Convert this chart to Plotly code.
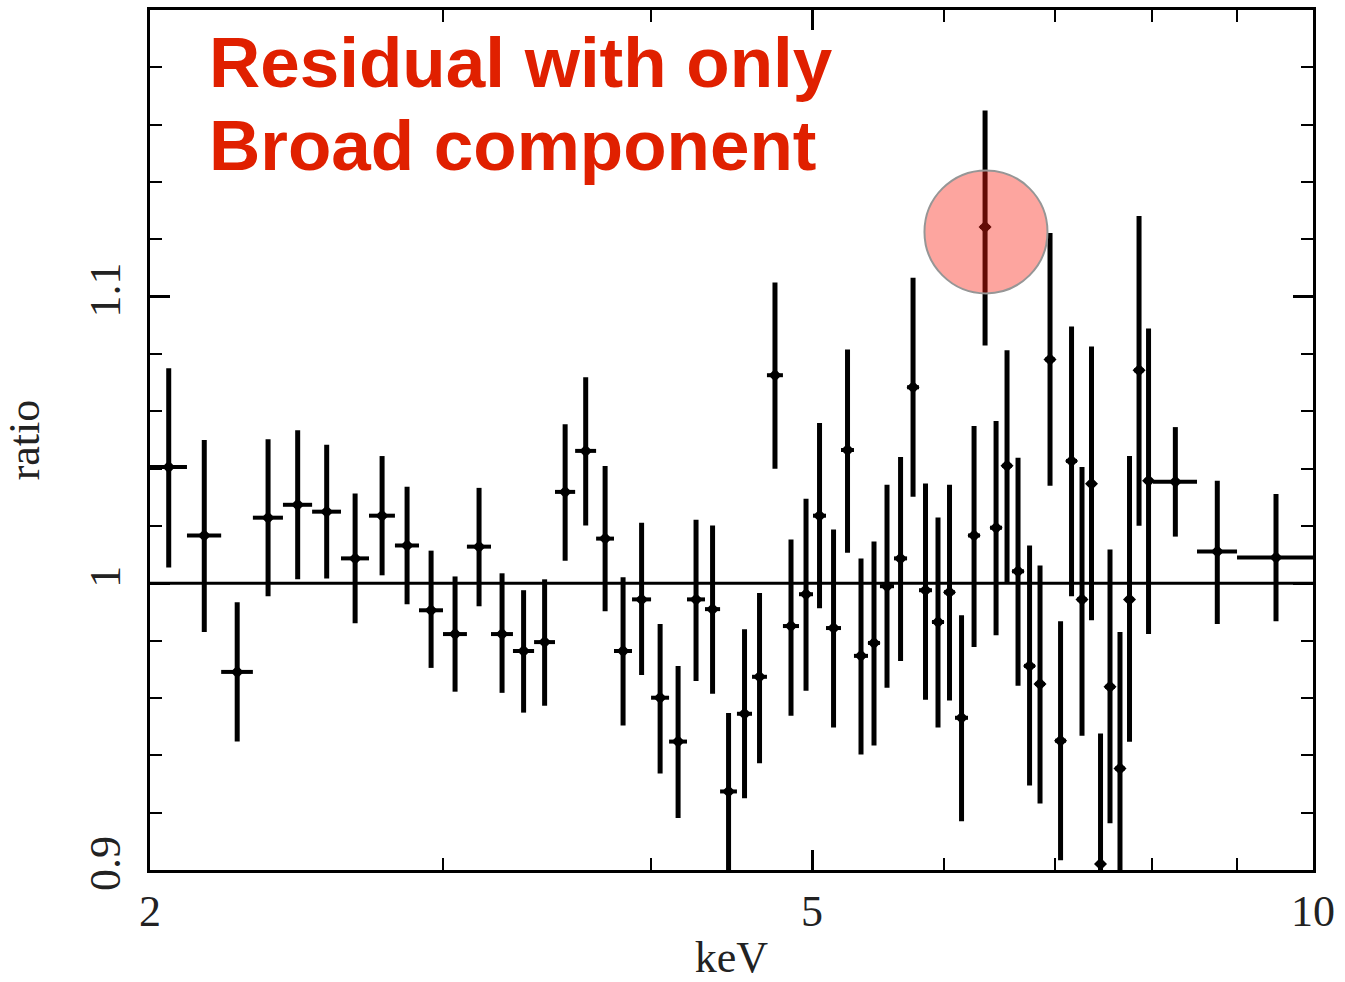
import plotly.graph_objects as go

# Energy bin edges (keV), contiguous bins
bin_edges = [2.000, 2.105, 2.207, 2.306, 2.404, 2.503, 2.605, 2.708, 2.807, 2.902,
             3.000, 3.101, 3.206, 3.305, 3.403, 3.503, 3.602, 3.708, 3.801, 3.897,
             4.001, 4.102, 4.205, 4.311, 4.402, 4.506, 4.601, 4.697, 4.802, 4.910,
             5.006, 5.097, 5.204, 5.298, 5.402, 5.492, 5.600, 5.702, 5.797, 5.902,
             6.001, 6.093, 6.204, 6.308, 6.396, 6.503, 6.593, 6.704, 6.807, 6.901,
             6.998, 7.105, 7.214, 7.314, 7.406, 7.499, 7.603, 7.709, 7.806, 7.915,
             8.014, 8.517, 9.002, 10.0]

# data/model ratio
ratio = [1.0406, 1.0167, 0.9691, 1.0229, 1.0274, 1.0250, 1.0087, 1.0236, 1.0132, 0.9906,
         0.9823, 1.0128, 0.9823, 0.9764, 0.9795, 1.0319, 1.0462, 1.0156, 0.9764, 0.9944,
         0.9601, 0.9448, 0.9944, 0.9910, 0.9274, 0.9545, 0.9674, 1.0726, 0.9851, 0.9962,
         1.0236, 0.9844, 1.0465, 0.9747, 0.9792, 0.9990, 1.0087, 1.0684, 0.9976, 0.9865,
         0.9969, 0.9531, 1.0167, 1.1243, 1.0194, 1.0410, 1.0042, 0.9712, 0.9649, 1.0781,
         0.9451, 1.0427, 0.9944, 1.0347, 0.9021, 0.9639, 0.9354, 0.9944, 1.0743, 1.0358,
         1.0354, 1.0111, 1.0090]

err_up = [0.0344, 0.0333, 0.0243, 0.0274, 0.0260, 0.0233, 0.0226, 0.0208, 0.0205, 0.0208,
          0.0201, 0.0205, 0.0212, 0.0212, 0.0219, 0.0236, 0.0257, 0.0253, 0.0257, 0.0267,
          0.0257, 0.0264, 0.0278, 0.0292, 0.0274, 0.0295, 0.0292, 0.0323, 0.0302, 0.0333,
          0.0323, 0.0344, 0.0351, 0.0340, 0.0354, 0.0354, 0.0354, 0.0382, 0.0372, 0.0365,
          0.0375, 0.0358, 0.0382, 0.0406, 0.0372, 0.0403, 0.0396, 0.0420, 0.0413, 0.0441,
          0.0417, 0.0469, 0.0462, 0.0479, 0.0455, 0.0479, 0.0476, 0.0500, 0.0538, 0.0531,
          0.0191, 0.0247, 0.0222]

err_dn = [0.0351, 0.0337, 0.0243, 0.0274, 0.0260, 0.0233, 0.0226, 0.0208, 0.0205, 0.0201,
          0.0201, 0.0208, 0.0205, 0.0215, 0.0222, 0.0240, 0.0260, 0.0253, 0.0260, 0.0264,
          0.0264, 0.0267, 0.0285, 0.0295, 0.0274, 0.0295, 0.0302, 0.0326, 0.0313, 0.0337,
          0.0323, 0.0347, 0.0358, 0.0344, 0.0358, 0.0354, 0.0358, 0.0382, 0.0382, 0.0368,
          0.0378, 0.0361, 0.0389, 0.0413, 0.0375, 0.0410, 0.0399, 0.0417, 0.0417, 0.0441,
          0.0417, 0.0472, 0.0476, 0.0476, 0.0455, 0.0476, 0.0476, 0.0497, 0.0542, 0.0535,
          0.0191, 0.0253, 0.0222]

x_ticks = [2, 5, 10]
x_tick_labels = ["2", "5", "10"]
x_minor = [3, 4, 6, 7, 8, 9]
y_ticks = [0.9, 1.0, 1.1]
y_tick_labels = ["0.9", "1", "1.1"]

highlight_x = 6.36
highlight_y = 1.1226

title_line1 = "Residual with only"
title_line2 = "Broad component"

lo = bin_edges[:-1]
hi = bin_edges[1:]
xc = [(a + b) / 2 for a, b in zip(lo, hi)]
ex_plus = [b - c for b, c in zip(hi, xc)]
ex_minus = [c - a for a, c in zip(lo, xc)]

fig = go.Figure()
fig.add_trace(go.Scatter(
    x=xc, y=ratio, mode="markers",
    marker=dict(symbol="diamond", size=10, color="black"),
    error_x=dict(type="data", symmetric=False, array=ex_plus, arrayminus=ex_minus,
                 color="black", thickness=4, width=0),
    error_y=dict(type="data", symmetric=False, array=err_up, arrayminus=err_dn,
                 color="black", thickness=5, width=0),
    showlegend=False, hoverinfo="skip",
))
fig.add_trace(go.Scatter(
    x=[highlight_x], y=[highlight_y], mode="markers",
    marker=dict(size=123, color="rgba(250,30,15,0.4)",
                line=dict(color="rgb(150,150,150)", width=2)),
    showlegend=False, hoverinfo="skip",
))

fig.add_shape(type="line", xref="paper", yref="y", x0=0, x1=1, y0=1.0, y1=1.0,
              line=dict(color="black", width=3), layer="above")

tick_font = dict(family="Liberation Serif, Times New Roman, serif", size=44, color="#222")

fig.update_layout(
    width=1345, height=982,
    margin=dict(l=150, r=32, t=10, b=112, autoexpand=False),
    paper_bgcolor="white", plot_bgcolor="white",
    font=tick_font,
    xaxis=dict(
        type="log", range=[0.30103, 1.0], automargin=False,
        tickmode="array", tickvals=x_ticks, ticktext=x_tick_labels,
        ticks="inside", ticklen=20, tickwidth=2.5, tickcolor="black",
        minor=dict(tickmode="array", tickvals=x_minor, ticks="inside",
                   ticklen=12, tickwidth=2, tickcolor="black", showgrid=False),
        showline=True, linecolor="black", linewidth=3, mirror="allticks",
        showgrid=False, zeroline=False,
        tickfont=tick_font,
        title=dict(text="keV", font=tick_font, standoff=14),
    ),
    yaxis=dict(
        range=[0.9, 1.2], automargin=False,
        tickmode="array", tickvals=y_ticks, ticktext=y_tick_labels, tickangle=-90,
        ticks="inside", ticklen=20, tickwidth=2.5, tickcolor="black",
        minor=dict(dtick=0.02, tick0=0.9, ticks="inside",
                   ticklen=12, tickwidth=2, tickcolor="black", showgrid=False),
        showline=True, linecolor="black", linewidth=3, mirror="allticks",
        showgrid=False, zeroline=False,
        tickfont=tick_font, ticklabelstandoff=9,
        title=dict(text="ratio", font=tick_font, standoff=30),
    ),
)

title_font = dict(family="Liberation Sans, Arial, sans-serif", size=71, color="#E02000")
fig.add_annotation(xref="paper", yref="paper", x=0.049, y=0.939, xanchor="left",
                   yanchor="middle", text="<b>" + title_line1 + "</b>",
                   showarrow=False, font=title_font)
fig.add_annotation(xref="paper", yref="paper", x=0.049, y=0.843, xanchor="left",
                   yanchor="middle", text="<b>" + title_line2 + "</b>",
                   showarrow=False, font=title_font)

fig.write_html("out.html")
